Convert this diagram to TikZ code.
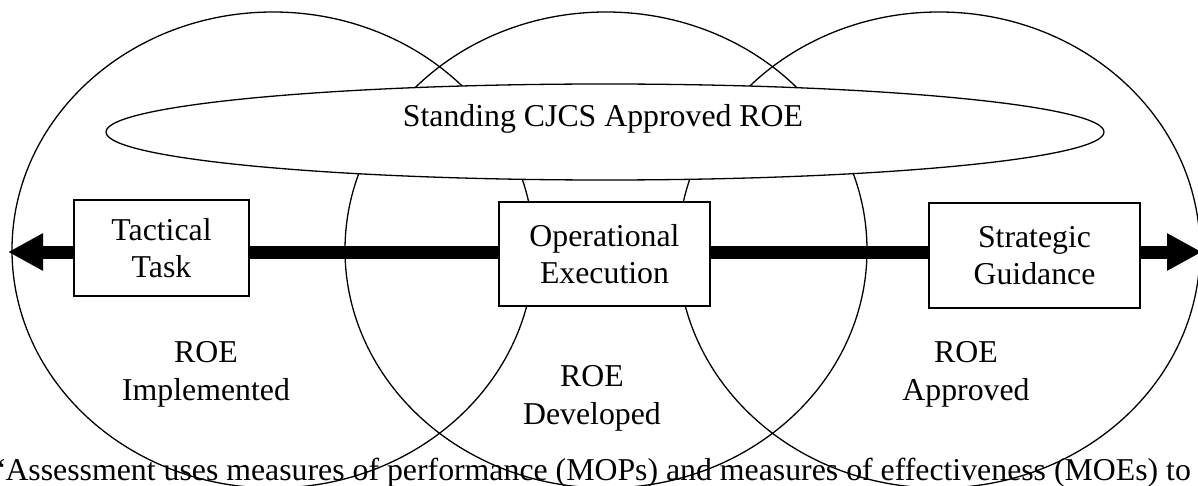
\documentclass[tikz,border=0pt]{standalone}
\usepackage{fontspec}
\setmainfont{Liberation Serif}
\usetikzlibrary{arrows.meta,shapes.geometric}
\begin{document}
\begin{tikzpicture}[x=0.5pt,y=-0.5pt,
  zone/.style={line width=0.65pt},
  txt/.style={font=\fontsize{15.9pt}{18.75pt}\selectfont, inner sep=0pt, align=center},
  box/.style={txt, draw, line width=1pt, fill=white},
  flow/.style={line width=6.5pt, {Triangle[length=17.5pt,width=17.5pt]}-{Triangle[length=17.5pt,width=17.5pt]}}]
\useasboundingbox (0,0) rectangle (1198,486);
% three overlapping zones
\draw[zone] (273,250) ellipse [x radius=261, y radius=238];
\draw[zone] (606,250) ellipse [x radius=261, y radius=238];
\draw[zone] (939,250) ellipse [x radius=261, y radius=238];
% standing ROE ellipse
\draw[zone, fill=white] (605,132) ellipse [x radius=499, y radius=48];
\node[txt, anchor=base] (std) at (603,127) {Standing CJCS Approved ROE};
% main arrow
\coordinate (L) at (8,252);
\coordinate (R) at (1202,252);
\draw[flow] (L) -- (R);
% boxes
\node[box, minimum width=87.5pt, minimum height=48pt] (tac) at (161.5,248) {Tactical\\Task};
\node[box, minimum width=105.5pt, minimum height=52pt] (ope) at (604.5,254) {Operational\\Execution};
\node[box, minimum width=105.5pt, minimum height=52.5pt] (str) at (1034.5,255.5) {Strategic\\Guidance};
% zone labels
\node[txt] (imp) at (206,374.6) {ROE\\Implemented};
\node[txt] (dev) at (592,398.6) {ROE\\Developed};
\node[txt] (app) at (966,374.6) {ROE\\Approved};
% following text
\node[txt, anchor=base west] (body) at (-9,480) {“Assessment uses measures of performance (MOPs) and measures of effectiveness (MOEs) to};
\end{tikzpicture}
\end{document}
